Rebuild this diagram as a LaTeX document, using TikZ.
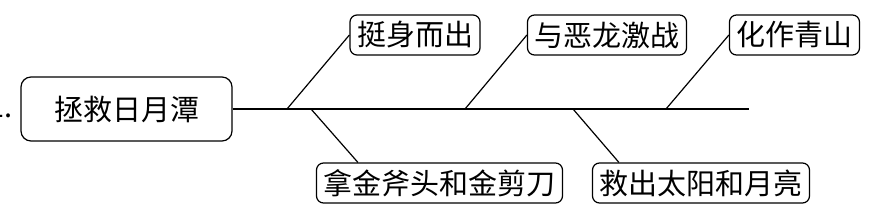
\documentclass[tikz,border=0pt]{standalone}
\usepackage{fontspec}
\newfontfamily\cjk{Noto Sans CJK SC}
\usetikzlibrary{positioning}

\begin{document}
\begin{tikzpicture}[x=1pt, y=-1pt, every node/.style={font=\cjk\fontsize{29}{31}\selectfont}, topic/.style={draw, rounded corners=10pt, line width=1.2pt, minimum width=211pt, minimum height=64pt}, item/.style={draw, rounded corners=7pt, line width=1.2pt, inner xsep=7pt, minimum height=40pt}, spine/.style={line width=1.2pt}]
\useasboundingbox (0,0) rectangle (871,219);
\node[topic] (main) at (126.5,109) {拯救日月潭};
\node[anchor=base east, inner sep=0pt] (num) at (13,118) {1.};
\coordinate (tail) at (749,109);
\node[item] (up1) at (415,35) {挺身而出};
\node[item] (up2) at (607,35) {与恶龙激战};
\node[item] (up3) at (794.5,35) {化作青山};
\node[item] (down1) at (439.5,183) {拿金斧头和金剪刀};
\node[item] (down2) at (701,183) {救出太阳和月亮};
\coordinate (b1) at (287,109);
\coordinate (b2) at (311,109);
\coordinate (b3) at (465,109);
\coordinate (b4) at (573,109);
\coordinate (b5) at (666,109);
\draw[spine] (main) -- (tail);
\draw[spine] (b1) -- (up1.west);
\draw[spine] (b3) -- (up2.west);
\draw[spine] (b5) -- (up3.west);
\draw[spine] (b2) -- ([xshift=42pt]down1.north west);
\draw[spine] (b4) -- ([xshift=27pt]down2.north west);
\end{tikzpicture}
\end{document}
